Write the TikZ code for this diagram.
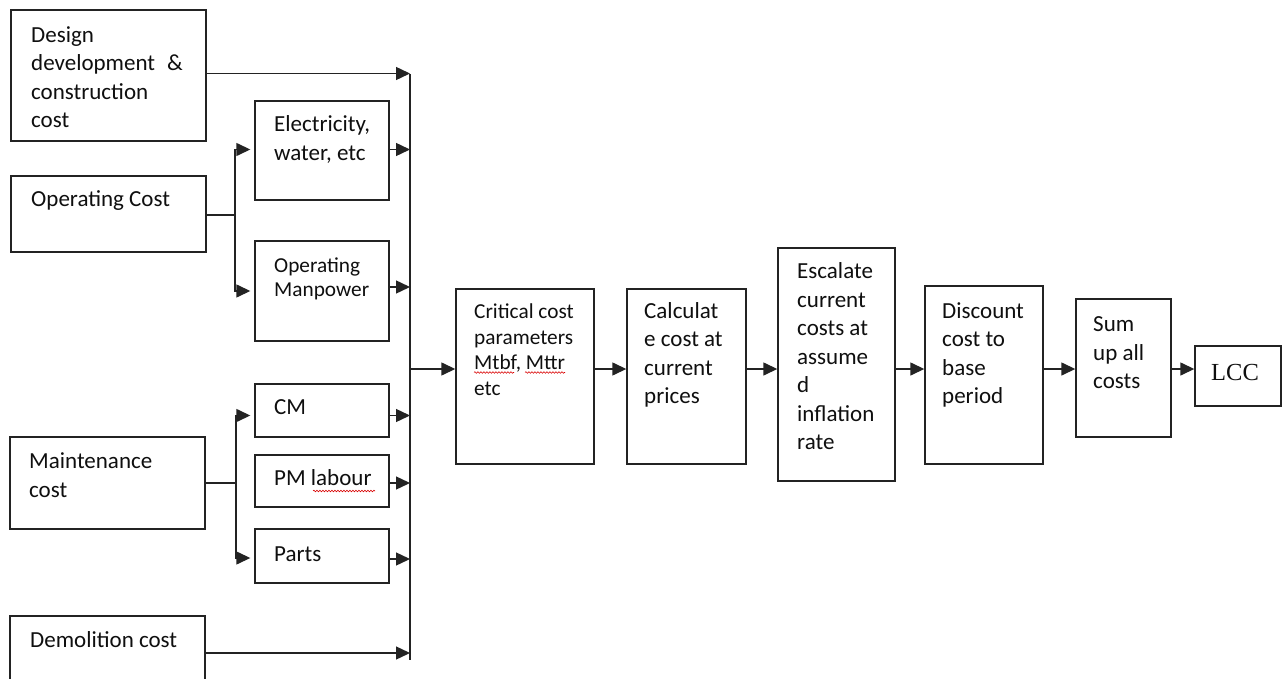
\documentclass[tikz,border=0pt]{standalone}
\usepackage{fontspec}
\setmainfont{Carlito}
\newfontfamily\lccfont{Liberation Serif}
\usetikzlibrary{arrows.meta,fit,decorations.pathmorphing}
\definecolor{linec}{RGB}{35,35,35}
\definecolor{textc}{RGB}{15,15,15}
\begin{document}
\begin{tikzpicture}[x=1pt,y=-1pt,
  rect/.style={draw=linec,line width=1.4pt,inner sep=0pt},
  txt/.style={font=\fontsize{23}{28.5}\selectfont,align=left,inner sep=0pt,text=textc,anchor=base west},
  conn/.style={draw=linec,line width=1.4pt},
  arr/.style={conn,-{Triangle[length=14pt,width=13pt]}},
  spell/.style={draw=red!85!black,line width=0.6pt,decorate,decoration={snake,amplitude=0.8pt,segment length=3pt}}]
\useasboundingbox (0,0) rectangle (1284,679);
\clip (0,0) rectangle (1284,679);
\fill[white] (0,0) rectangle (1284,679);
% left column boxes
\node[rect,fit={(11,10) (206,141)}] (design) {};
\node[rect,fit={(11,176) (206,252)}] (oper) {};
\node[rect,fit={(10,437) (205,529)}] (maint) {};
\node[rect,fit={(10,616) (205,700)}] (demol) {};
% second column boxes
\node[rect,fit={(255,101) (389,200)}] (elec) {};
\node[rect,fit={(255,241) (389,341)}] (manp) {};
\node[rect,fit={(255,384) (389,437)}] (cm) {};
\node[rect,fit={(255,455) (389,507)}] (pm) {};
\node[rect,fit={(255,529) (389,583)}] (parts) {};
% chain boxes
\node[rect,fit={(456,289) (594,464)}] (crit) {};
\node[rect,fit={(627,289) (746,464)}] (calc) {};
\node[rect,fit={(778,248) (895,481)}] (escal) {};
\node[rect,fit={(925,286) (1043,464)}] (disc) {};
\node[rect,fit={(1076,299) (1171,437)}] (sumb) {};
\node[rect,fit={(1195,346) (1281,406)}] (lcc) {};
% texts (anchored at the baseline of the last line)
\node[txt] (designT) at (31,128) {Design\\development\hspace{12pt}\&\\construction\\cost};
\node[txt] (operT) at (31,207) {Operating Cost};
\node[txt] (maintT) at (29,497) {Maintenance\\cost};
\node[txt] (demolT) at (30,647) {Demolition cost};
\node[txt] (elecT) at (274,160.5) {Electricity,\\water, etc};
\node[txt,font=\fontsize{21.3}{24.3}\selectfont] (manpT) at (274,296.3) {Operating\\Manpower};
\node[txt] (cmT) at (274,414.5) {CM};
\node[txt] (pmT) at (274,485) {PM labour};
\node[txt] (partsT) at (274,561) {Parts};
\node[txt,font=\fontsize{21.3}{25.7}\selectfont] (critT) at (474,395.6) {Critical cost\\parameters\\Mtbf, Mttr\\etc};
\node[txt] (calcT) at (644,403.5) {Calculat\\e cost at\\current\\prices};
\node[txt] (escalT) at (797,449.5) {Escalate\\current\\costs at\\assume\\d\\inflation\\rate};
\node[txt] (discT) at (942,403.5) {Discount\\cost to\\base\\period};
\node[txt] (sumT) at (1093,388.5) {Sum\\up all\\costs};
\node[txt,font=\lccfont\fontsize{24.5}{28}\selectfont] (lccT) at (1211,380) {LCC};
% spell-check marks
\draw[spell] (313,491) -- (375,491);
\draw[spell] (474,372.5) -- (514,372.5);
\draw[spell] (525,372.5) -- (565,372.5);
% bus
\coordinate (busT) at (410,74);
\coordinate (busB) at (410,660);
\coordinate (mainline) at (0,369);
\draw[conn] (busT) -- (busB);
% design
\draw[arr] ([yshift=2pt]design.east) -- ([yshift=2pt]design.east -| busT);
% operating branch
\coordinate (opj) at (235,215);
\draw[conn] (oper.east |- opj) -- (opj);
\draw[arr,shorten >=4pt] (opj) |- ([yshift=1pt]elec.west);
\draw[arr,shorten >=4pt] (opj) |- (manp.west);
\draw[arr] ([yshift=1pt]elec.east) -- ([yshift=1pt]elec.east -| busT);
\draw[arr] ([yshift=4pt]manp.east) -- ([yshift=4pt]manp.east -| busT);
% maintenance branch
\coordinate (mj) at (236,483);
\draw[conn] (maint.east |- mj) -- (mj);
\draw[arr,shorten >=4pt] (mj) |- ([yshift=-5pt]cm.west);
\draw[arr,shorten >=4pt] (mj) |- ([yshift=-2pt]parts.west);
\draw[arr] ([yshift=-5pt]cm.east) -- ([yshift=-5pt]cm.east -| busT);
\draw[arr] ([yshift=-2pt]pm.east) -- ([yshift=-2pt]pm.east -| busT);
\draw[arr] ([yshift=-3pt]parts.east) -- ([yshift=-3pt]parts.east -| busT);
% demolition
\draw[arr] (demol.east |- 0,653) -- (busT |- 0,653);
% chain
\draw[arr] (busT |- mainline) -- (crit.west |- mainline);
\draw[arr] (crit.east |- mainline) -- (calc.west |- mainline);
\draw[arr] (calc.east |- mainline) -- (escal.west |- mainline);
\draw[arr] (escal.east |- mainline) -- (disc.west |- mainline);
\draw[arr] (disc.east |- mainline) -- (sumb.west |- mainline);
\draw[arr] (sumb.east |- mainline) -- (lcc.west |- mainline);
\end{tikzpicture}
\end{document}
